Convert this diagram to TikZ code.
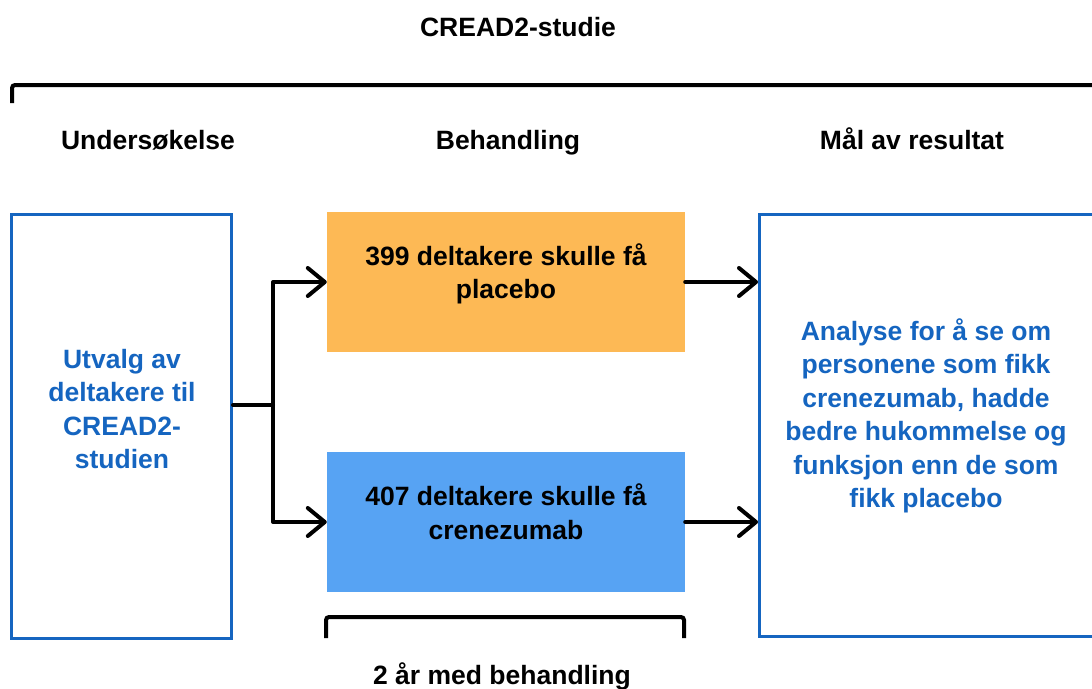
\documentclass[tikz,border=0pt]{standalone}
\usepackage{fontspec}
\setmainfont{Liberation Sans}
\usetikzlibrary{arrows.meta}
\definecolor{lineblue}{RGB}{21,101,192}
\definecolor{orangefill}{RGB}{253,185,85}
\definecolor{bluefill}{RGB}{87,163,243}
\begin{document}
\begin{tikzpicture}[x=1pt,y=-1pt,
  txt/.style={font=\fontsize{26.5}{33.5}\selectfont\bfseries, align=center, inner sep=0pt},
  bluetxt/.style={txt, text=lineblue},
  box/.style={draw=lineblue, line width=3pt, inner sep=0pt},
  fillbox/.style={inner sep=0pt, draw=none},
  conn/.style={line width=4pt, line cap=round, line join=round},
  brk/.style={line width=4pt, line cap=butt, rounded corners=3pt},
  tip/.tip={Straight Barb[length=17pt,width=28pt,round]}]
\clip (0,0) rectangle (1092,688);
% boxes
\node[box, minimum width=220pt, minimum height=424pt] (left) at (121.5,426.5) {};
\node[fillbox, fill=orangefill, minimum width=358pt, minimum height=140pt] (orange) at (506,282) {};
\node[fillbox, fill=bluefill, minimum width=358pt, minimum height=140pt] (blue) at (506,522) {};
\node[box, minimum width=335pt, minimum height=422pt] (right) at (927,425.5) {};
% texts in boxes
\node[bluetxt] (lefttext) at (122,409) {Utvalg av\\deltakere til\\CREAD2-\\studien};
\node[txt] (orangetext) at (506,274) {399 deltakere skulle få\\placebo};
\node[txt] (bluetext) at (506,511.6) {407 deltakere skulle få\\crenezumab};
\node[bluetxt] (righttext) at (926,416) {Analyse for å se om\\personene som fikk\\crenezumab, hadde\\bedre hukommelse og\\funksjon enn de som\\fikk placebo};
% headings
\node[txt, anchor=base] (title) at (518,36.5) {CREAD2-studie};
\node[txt, anchor=base] (h1) at (148,149.5) {Undersøkelse};
\node[txt, anchor=base] (h2) at (508,149.5) {Behandling};
\node[txt, anchor=base] (h3) at (912,149.5) {Mål av resultat};
\node[txt, anchor=base] (dur) at (502,684.5) {2 år med behandling};
% connectors
\coordinate (j) at (273,405);
\draw[conn] (left.east |- j) -- (j);
\draw[conn, tip-tip] (orange.west) -| (j) |- (blue.west);
\draw[conn, -tip] (orange.east) -- (orange.east -| right.west);
\draw[conn, -tip] (blue.east) -- (blue.east -| right.west);
% brackets
\draw[brk] (12,103) -- (12,85) -- (1100,85);
\draw[brk] (326,638) -- (326,617) -- (684,617) -- (684,638);
\end{tikzpicture}
\end{document}
